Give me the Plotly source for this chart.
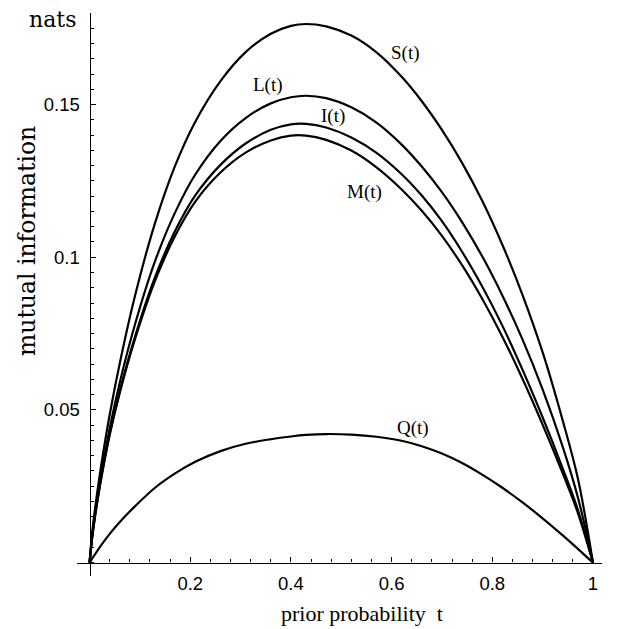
import plotly.graph_objects as go

# prior probability grid
t = [0, 0.005, 0.01, 0.02, 0.04, 0.06, 0.09, 0.13, 0.17, 0.21, 0.26, 0.31, 0.36, 0.40,
     0.43, 0.47, 0.52, 0.57, 0.62, 0.66, 0.70, 0.74, 0.78, 0.82, 0.86, 0.90, 0.94, 0.97, 1.0]

S = [0, 0.0095, 0.0165, 0.0285, 0.0485, 0.0653, 0.0872, 0.1112, 0.1300, 0.1444, 0.1577, 0.1672, 0.1732,
     0.1758, 0.1764, 0.1756, 0.1726, 0.1671, 0.1591, 0.1511, 0.1417, 0.1309, 0.1185, 0.1041, 0.0877, 0.0689,
     0.0465, 0.0276, 0]
L = [0, 0.0085, 0.0150, 0.0260, 0.0440, 0.0590, 0.0779, 0.0987, 0.1147, 0.1271, 0.1381, 0.1456, 0.1504,
     0.1524, 0.1529, 0.1521, 0.1491, 0.1441, 0.1369, 0.1297, 0.1213, 0.1115, 0.1003, 0.0875, 0.0731, 0.0567,
     0.0379, 0.0214, 0]
I = [0, 0.0080, 0.01425, 0.02475, 0.04215, 0.05615, 0.07385, 0.09345, 0.10865, 0.12025, 0.13025, 0.13725,
     0.14175, 0.14355, 0.1437, 0.1425, 0.1392, 0.1342, 0.1272, 0.1202, 0.1118, 0.1018, 0.0904, 0.0776, 0.0632,
     0.0476, 0.0308, 0.0173, 0]
M = [0, 0.0080, 0.01425, 0.02465, 0.04185, 0.05565, 0.07305, 0.09225, 0.10705, 0.11825, 0.12775, 0.13425,
     0.13825, 0.13985, 0.13985, 0.13845, 0.13495, 0.12945, 0.1222, 0.1152, 0.1070, 0.0974, 0.0864, 0.0740,
     0.0602, 0.0452, 0.0292, 0.0163, 0]
Q = [0, 0.0013, 0.0025, 0.0050, 0.0094, 0.0133, 0.0184, 0.0245, 0.0292, 0.0330, 0.0365, 0.0389, 0.0404,
     0.0413, 0.0418, 0.0421, 0.0419, 0.0412, 0.0399, 0.0381, 0.0357, 0.0326, 0.0288, 0.0245, 0.0197, 0.0145,
     0.0089, 0.0045, 0]

curve_names = ["S(t)", "L(t)", "I(t)", "M(t)", "Q(t)"]
curve_values = [S, L, I, M, Q]
label_pos = [(0.627, 0.1668), (0.355, 0.1563), (0.484, 0.1462), (0.547, 0.1213), (0.642, 0.0440)]

x_tickvals = [0.2, 0.4, 0.6, 0.8, 1.0]
x_ticktext = ["0.2", "0.4", "0.6", "0.8", "1"]
y_tickvals = [0.05, 0.1, 0.15]
y_ticktext = ["0.05", "0.1", "0.15"]

XR = [-0.025, 1.018]
YR = [-0.0044, 0.18]

fig = go.Figure()
for name, vals in zip(curve_names, curve_values):
    fig.add_trace(go.Scatter(x=t, y=vals, mode="lines", name=name,
                             line=dict(color="black", width=2.2, shape="spline", smoothing=1.0),
                             showlegend=False, hoverinfo="skip"))

serif = "Liberation Serif, Times New Roman, serif"
for name, (lx, ly) in zip(curve_names, label_pos):
    fig.add_annotation(x=lx, y=ly, text=name, showarrow=False, xref="x", yref="y",
                       xanchor="center", yanchor="middle",
                       font=dict(family=serif, size=19, color="black"))

xpos = (0 - YR[0]) / (YR[1] - YR[0])
ypos = (0 - XR[0]) / (XR[1] - XR[0])

tickfont = dict(family="Liberation Sans, Arial, sans-serif", size=18.5, color="black")
fig.update_xaxes(range=XR, showgrid=False, zeroline=False, showline=True, linecolor="black", linewidth=1.3,
                 anchor="free", position=xpos,
                 tickmode="array", tickvals=x_tickvals, ticktext=x_ticktext,
                 ticks="inside", ticklen=5, tickwidth=1, tickcolor="black",
                 tickfont=tickfont, ticklabelstandoff=4,
                 minor=dict(tickmode="linear", tick0=0, dtick=0.04, ticks="inside", ticklen=3,
                            tickwidth=1, tickcolor="black", showgrid=False))
fig.update_yaxes(range=YR, showgrid=False, zeroline=False, showline=True, linecolor="black", linewidth=1.3,
                 anchor="free", position=ypos,
                 tickmode="array", tickvals=y_tickvals, ticktext=y_ticktext,
                 ticks="inside", ticklen=5, tickwidth=1, tickcolor="black",
                 tickfont=tickfont, ticklabelstandoff=6,
                 minor=dict(tickmode="linear", tick0=0, dtick=0.005, ticks="inside", ticklen=3,
                            tickwidth=1, tickcolor="black", showgrid=False))

fig.add_annotation(x=0.5438, y=-0.0664, xref="paper", yref="paper", text="prior probability  t",
                   xanchor="center", yanchor="middle", showarrow=False,
                   font=dict(family=serif, size=22, color="black"))
fig.add_annotation(x=-0.0952, y=0.595, xref="paper", yref="paper", text="mutual information",
                   xanchor="center", yanchor="middle", textangle=-90, showarrow=False,
                   font=dict(family="DejaVu Serif, serif", size=23.5, color="black"))
fig.add_annotation(x=-0.0476, y=0.9876, xref="paper", yref="paper", text="nats",
                   xanchor="center", yanchor="middle", showarrow=False,
                   font=dict(family="DejaVu Serif, serif", size=22, color="black"))

fig.update_layout(width=621, height=629, margin=dict(l=77, r=19, t=13, b=53),
                  plot_bgcolor="white", paper_bgcolor="white")

fig.write_html("out.html", config={"displayModeBar": False},
               post_script="document.body.style.margin='0px';")
